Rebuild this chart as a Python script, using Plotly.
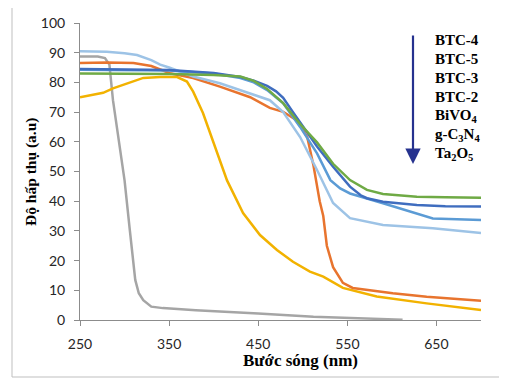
import plotly.graph_objects as go

# ---- data ----
btc4_x = [250, 300, 350, 400, 430, 445, 460, 478, 497, 516, 534, 553, 572, 590, 628, 660, 700]
btc4_y = [83.0, 83.0, 82.8, 82.5, 82.0, 80.5, 77.8, 73.0, 66.0, 59.8, 52.6, 47.1, 43.8, 42.4, 41.5, 41.3, 41.2]

btc5_x = [250, 300, 350, 400, 430, 445, 460, 470, 478, 489, 505, 516, 534, 553, 565, 572, 590, 628, 660, 700]
btc5_y = [84.5, 84.4, 84.2, 83.2, 81.8, 80.6, 78.8, 77.0, 74.8, 70.0, 63.0, 58.4, 51.6, 44.9, 42.0, 41.0, 39.8, 38.7, 38.3, 38.2]

btc3_x = [250, 300, 350, 400, 430, 445, 460, 478, 497, 516, 531, 542, 553, 590, 628, 646, 700]
btc3_y = [84.3, 84.2, 84.0, 83.0, 81.5, 80.0, 77.4, 73.0, 65.0, 56.1, 47.1, 44.3, 42.6, 39.3, 35.9, 34.2, 33.7]

btc2_x = [250, 280, 300, 314, 330, 340, 350, 377, 407, 441, 463, 478, 497, 516, 534, 553, 590, 646, 700]
btc2_y = [90.5, 90.3, 89.8, 89.2, 87.5, 86.0, 85.0, 82.0, 79.7, 76.4, 74.0, 70.0, 61.6, 50.5, 39.4, 34.3, 32.0, 30.9, 29.3]

bivo4_x = [250, 280, 310, 330, 351, 377, 407, 441, 463, 478, 493, 505, 512, 519, 523, 527, 534, 545, 556, 601, 639, 700]
bivo4_y = [86.5, 86.7, 86.5, 85.5, 83.1, 81.5, 78.6, 75.0, 71.4, 70.1, 67.3, 61.6, 52.0, 40.0, 35.0, 25.0, 17.8, 12.5, 10.8, 9.0, 7.8, 6.5]

gcn_x = [250, 265, 276, 287, 303, 321, 340, 359, 370, 377, 388, 400, 411, 415, 433, 452, 471, 489, 508, 523, 545, 583, 639, 700]
gcn_y = [75.0, 75.8, 76.5, 78.0, 79.7, 81.5, 81.8, 81.8, 80.3, 76.9, 69.7, 59.6, 50.5, 47.0, 36.0, 28.6, 23.6, 19.6, 16.3, 14.6, 10.8, 7.9, 5.6, 3.4]

ta2o5_x = [250, 270, 278, 283, 287, 293, 298, 300, 306, 312, 316, 321, 330, 343, 380, 418, 450, 512, 550, 606, 612]
ta2o5_y = [88.7, 88.7, 88.2, 86.0, 74.0, 61.7, 50.5, 47.0, 30.0, 13.5, 9.0, 6.7, 4.5, 4.0, 3.3, 2.8, 2.2, 1.1, 0.7, 0.2, 0.1]

x_ticks = [250, 350, 450, 550, 650]
y_ticks = [0, 10, 20, 30, 40, 50, 60, 70, 80, 90, 100]

legend_labels = ["BTC-4", "BTC-5", "BTC-3", "BTC-2", "BiVO<sub>4</sub>",
                 "g-C<sub>3</sub>N<sub>4</sub>", "Ta<sub>2</sub>O<sub>5</sub>"]

x_title = "Bước sóng (nm)"
y_title = "Độ hấp thụ (a.u)"

series = [
    (ta2o5_x, ta2o5_y, "#A5A5A5"),
    (gcn_x, gcn_y, "#F2B200"),
    (bivo4_x, bivo4_y, "#E8742E"),
    (btc2_x, btc2_y, "#9DC3E6"),
    (btc3_x, btc3_y, "#5B9BD5"),
    (btc5_x, btc5_y, "#3F6DBF"),
    (btc4_x, btc4_y, "#6FAA45"),
]

fig = go.Figure()
for xs, ys, col in series:
    fig.add_trace(go.Scatter(x=xs, y=ys, mode="lines",
                             line=dict(color=col, width=2.5), showlegend=False))

OFF = 8                      # page body margin offset
W, H = 507 - OFF, 380 - OFF
PL, PR, PT, PB = 80, 481, 23, 320   # plot area in page pixels
L, R, T, B = PL - OFF, W - (PR - OFF), PT - OFF, H - (PB - OFF)
pw, ph = PR - PL, PB - PT

def px(xp):
    return (xp - PL) / pw

def py(yp):
    return (PB - yp) / ph

tick_font = dict(family="Lato, Calibri, sans-serif", size=14, color="#262626")
serif = "Liberation Serif, Times New Roman, serif"

fig.update_layout(
    width=W, height=H,
    margin=dict(l=L, r=R, t=T, b=B),
    paper_bgcolor="white", plot_bgcolor="white",
    xaxis=dict(range=[250, 700], tickvals=x_ticks, ticktext=[str(v) for v in x_ticks],
               showgrid=False, zeroline=False, showline=True, linecolor="#8C8C8C",
               linewidth=1, ticks="outside", ticklen=5, tickcolor="#8C8C8C",
               tickfont=tick_font, ticklabelstandoff=6, automargin=False),
    yaxis=dict(range=[0, 100], tickvals=y_ticks, showgrid=False, zeroline=False,
               showline=True, linecolor="#8C8C8C", linewidth=1, ticks="outside",
               ticklen=5, tickcolor="#8C8C8C", tickfont=tick_font, ticklabelstandoff=6,
               automargin=False),
)

# axis titles
fig.add_annotation(xref="paper", yref="paper", x=px(300), y=py(360),
                   xanchor="center", yanchor="middle", showarrow=False,
                   text="<b>" + x_title + "</b>",
                   font=dict(family=serif, size=17, color="#000000"))
fig.add_annotation(xref="paper", yref="paper", x=px(31), y=py(172),
                   xanchor="center", yanchor="middle", showarrow=False, textangle=-90,
                   text="<b>" + y_title + "</b>",
                   font=dict(family=serif, size=15.5, color="#000000"))

# outer chart frame (left and bottom edges visible)
fig.add_shape(type="line", xref="paper", yref="paper", x0=px(12), x1=px(12),
              y0=py(377), y1=py(OFF), line=dict(color="#BFBFBF", width=1))
fig.add_shape(type="line", xref="paper", yref="paper", x0=px(12), x1=px(507),
              y0=py(377), y1=py(377), line=dict(color="#BFBFBF", width=1))

# legend text
legend_y = [40, 59, 78, 97, 116, 135, 154]
for lab, yy in zip(legend_labels, legend_y):
    fig.add_annotation(xref="paper", yref="paper", x=px(433), y=py(yy),
                       xanchor="left", yanchor="middle", showarrow=False,
                       text="<b>" + lab + "</b>",
                       font=dict(family=serif, size=15, color="#000000"))

# arrow
fig.add_annotation(xref="paper", yref="paper", axref="pixel", ayref="pixel",
                   x=px(413), y=py(164), ax=0, ay=-130, text="", showarrow=True,
                   arrowhead=2, arrowsize=1.4, arrowwidth=2.2, arrowcolor="#26328F")

fig.write_html("out.html")
